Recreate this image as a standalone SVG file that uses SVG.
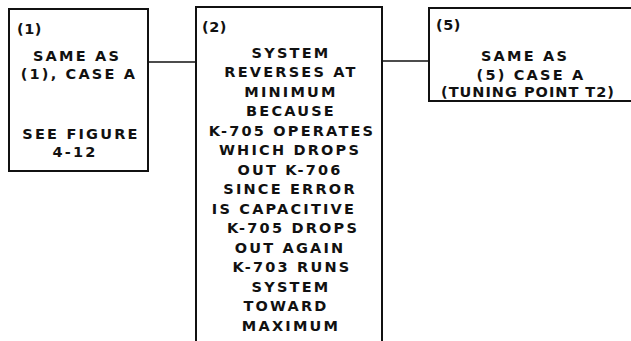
<svg xmlns="http://www.w3.org/2000/svg" width="631" height="341" viewBox="0 0 631 341">
<style>
.box{fill:#fff;stroke:#111;stroke-width:2}
.con{stroke:#111;stroke-width:1.6;fill:none}
text{font-family:"DejaVu Sans","Liberation Sans",sans-serif;font-weight:bold;font-size:14.5px;fill:#111;letter-spacing:2.2px}
.c{text-anchor:middle}
.n{letter-spacing:0.5px}
</style>
<rect width="631" height="341" fill="#fff"/>
<g id="connectors">
<line class="con" x1="148" y1="62" x2="196" y2="62"/>
<line class="con" x1="382" y1="61" x2="429" y2="61"/>
</g>
<g id="node1">
<rect class="box" x="9" y="9" width="139" height="162"/>
<text class="n" x="17" y="34">(1)</text>
<text class="c" x="77" y="61">SAME AS</text>
<text class="c" x="79" y="79">(1), CASE A</text>
<text class="c" x="81" y="139">SEE FIGURE</text>
<text class="c" x="75" y="157">4-12</text>
</g>
<g id="node2">
<path class="box" d="M196,345 V7 H382 V345"/>
<text class="n" x="202" y="32">(2)</text>
<text class="c" x="291" y="58">SYSTEM</text>
<text class="c" x="291" y="77">REVERSES AT</text>
<text class="c" x="291" y="97">MINIMUM</text>
<text class="c" x="291" y="116">BECAUSE</text>
<text class="c" x="292" y="136">K-705 OPERATES</text>
<text class="c" x="290" y="155">WHICH DROPS</text>
<text class="c" x="290" y="175">OUT K-706</text>
<text class="c" x="290" y="194">SINCE ERROR</text>
<text class="c" x="284" y="214">IS CAPACITIVE</text>
<text class="c" x="293" y="233">K-705 DROPS</text>
<text class="c" x="290" y="253">OUT AGAIN</text>
<text class="c" x="292" y="272">K-703 RUNS</text>
<text class="c" x="291" y="292">SYSTEM</text>
<text class="c" x="286" y="311">TOWARD</text>
<text class="c" x="291" y="331">MAXIMUM</text>
</g>
<g id="node5">
<path class="box" d="M640,8 H429 V101 H640"/>
<text class="n" x="436" y="30">(5)</text>
<text class="c" x="525" y="61">SAME AS</text>
<text class="c" x="531" y="80">(5) CASE A</text>
<text class="c" x="528" y="97" style="letter-spacing:1px">(TUNING POINT T2)</text>
</g>
</svg>
